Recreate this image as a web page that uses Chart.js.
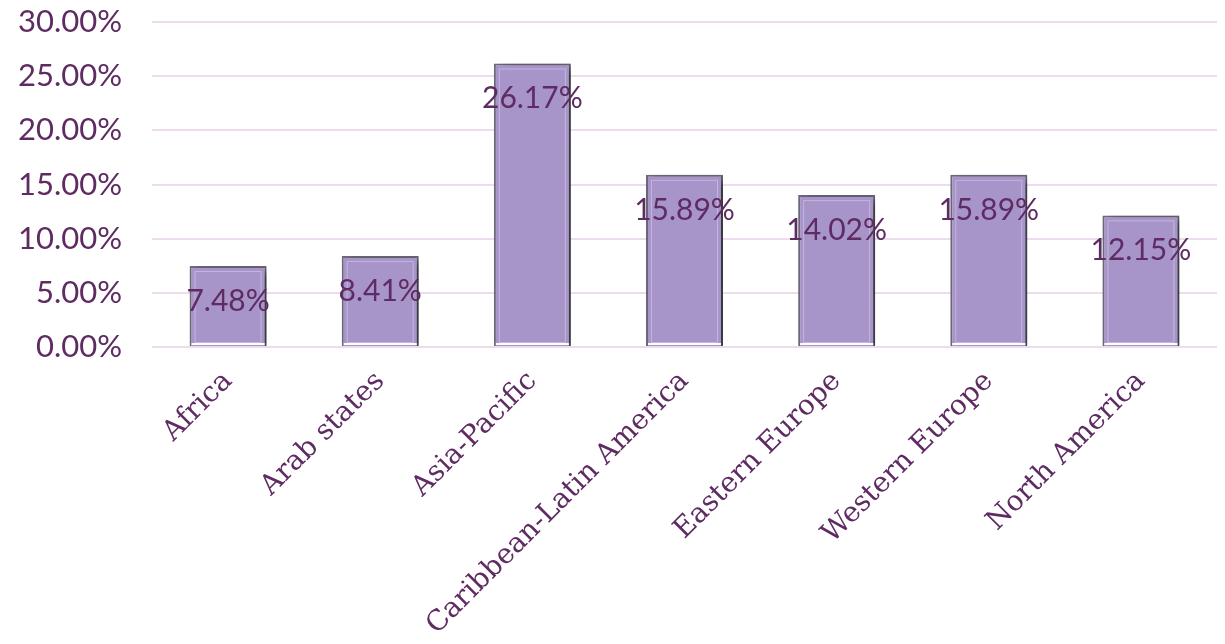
<!DOCTYPE html>
<html><head><meta charset="utf-8">
<script src="https://cdn.jsdelivr.net/npm/chart.js@4/dist/chart.umd.min.js"></script>
<style>html,body{margin:0;padding:0;background:#fff}#wrap{width:1225px;height:644px}</style>
</head><body><div id="wrap"><canvas id="c" width="1225" height="644"></canvas></div>
<script>
const categories = ["Africa","Arab states","Asia-Pacific","Caribbean-Latin America","Eastern Europe","Western Europe","North America"];
const shares = [7.48, 8.41, 26.17, 15.89, 14.02, 15.89, 12.15];
const tickValues = [0,5,10,15,20,25,30];

const textColor = '#5e2b62';

const shadowPlugin = {
  id:'shadow',
  beforeDatasetDraw(chart){
    const ctx = chart.ctx; ctx.save();
    ctx.shadowColor = 'rgba(0,0,0,0.55)';
    ctx.shadowBlur = 9; ctx.shadowOffsetX = 6; ctx.shadowOffsetY = 3;
  },
  afterDatasetDraw(chart){
    const ctx = chart.ctx; ctx.restore();
    const meta = chart.getDatasetMeta(0);
    ctx.save();
    meta.data.forEach((bar,i)=>{
      const w = bar.width, l = bar.x - w/2, t = bar.y, b = bar.base;
      ctx.strokeStyle='rgba(200,185,225,0.9)'; ctx.lineWidth=1;
      ctx.strokeRect(l+5.5, t+5.5, w-11, b-t-9);
      ctx.fillStyle='#ffffff';
      ctx.fillRect(l+2, b-3, w-4, 2);
    });
    ctx.restore();
  }
};
const labelPlugin = {
  id:'vlabels',
  afterDatasetsDraw(chart){
    const ctx = chart.ctx; const meta = chart.getDatasetMeta(0);
    ctx.save();
    ctx.font = '30px Lato'; ctx.fillStyle = textColor;
    ctx.textAlign='center'; ctx.textBaseline='middle';
    meta.data.forEach((bar,i)=>{
      ctx.fillText(shares[i].toFixed(2)+'%', bar.x, bar.y+35);
    });
    ctx.restore();
  }
};

new Chart(document.getElementById('c'), {
  type:'bar',
  data:{labels:categories, datasets:[{data:shares, backgroundColor:'#a794c9', borderColor:'#6e6a7c', borderWidth:2, barPercentage:0.506, categoryPercentage:1}]},
  options:{
    responsive:false, animation:false,
    layout:{padding:{left:0,right:8,top:22,bottom:0}},
    plugins:{legend:{display:false}, tooltip:{enabled:false}},
    scales:{
      y:{min:0,max:30,
        afterBuildTicks(ax){ax.ticks = tickValues.map(v=>({value:v}));},
        afterFit(ax){ax.width=152; ax.paddingTop=0; ax.paddingBottom=0;},
        border:{display:false},
        grid:{color:'#ecdcee', lineWidth:2, drawTicks:false},
        ticks:{color:textColor, font:{family:'Lato', size:31}, padding:30, callback:v=>v.toFixed(2)+'%'}
      },
      x:{
        afterFit(ax){ax.height=297;},
        border:{display:false},
        grid:{display:false},
        ticks:{color:textColor, font:{family:'DejaVu Serif', size:28}, minRotation:45, maxRotation:45, padding:10, autoSkip:false}
      }
    }
  },
  plugins:[shadowPlugin,labelPlugin]
});
</script></body></html>
